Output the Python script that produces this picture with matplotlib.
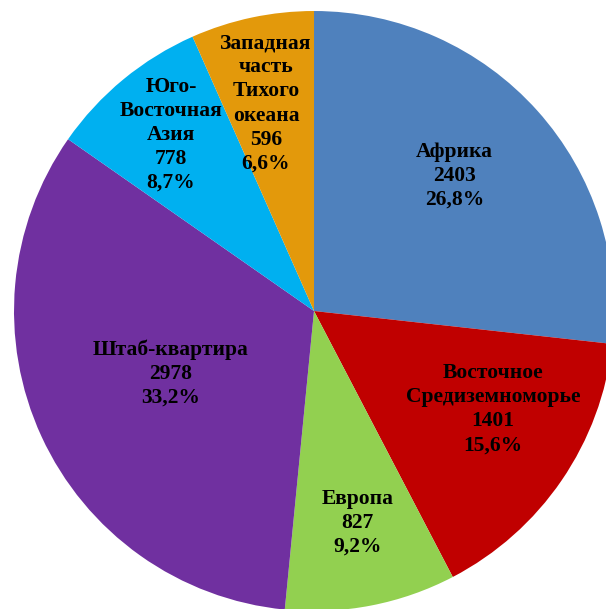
import numpy as np
import matplotlib
matplotlib.use("Agg")
import matplotlib.pyplot as plt

# Regions (clockwise from 12 o'clock) and staff counts
regions = ["Африка", "Восточное\nСредиземноморье", "Европа", "Штаб-квартира",
           "Юго-\nВосточная\nАзия", "Западная\nчасть\nТихого\nокеана"]
counts = [2403, 1401, 827, 2978, 778, 596]
colors = ["#4F81BD", "#C00000", "#92D050", "#7030A0", "#00B0F0", "#E3990B"]
# distance of each data label from the centre (fraction of radius)
label_r = [0.65, 0.68, 0.72, 0.52, 0.756, 0.71]
label_shift = [2, 5.6, 0.6, -1.2, -0.4, 1.1]  # small angular tweaks in degrees


def main():
    fig = plt.figure(figsize=(6.06, 6.09), dpi=100)
    ax = fig.add_axes([0, 0, 1, 1])
    wedges, _ = ax.pie(counts, colors=colors, startangle=90, counterclock=False,
                       radius=1.0, center=(0, 0), frame=True,
                       wedgeprops=dict(linewidth=0))
    total = sum(counts)
    for w, name, n, r, d in zip(wedges, regions, counts, label_r, label_shift):
        ang = np.deg2rad((w.theta1 + w.theta2) / 2 + d)
        pct = f"{100 * n / total:.1f}".replace(".", ",") + "%"
        ax.text(r * np.cos(ang), r * np.sin(ang), f"{name}\n{n}\n{pct}",
                ha="center", va="center", family="Liberation Serif",
                fontweight="bold", fontsize=15.5, linespacing=1.27)
    ax.set_xlim(-1.0467, 0.9733)
    ax.set_ylim(-0.9933, 1.0367)
    ax.set_aspect("auto")
    ax.axis("off")
    fig.savefig("out.png", dpi=100)


if __name__ == "__main__":
    main()
